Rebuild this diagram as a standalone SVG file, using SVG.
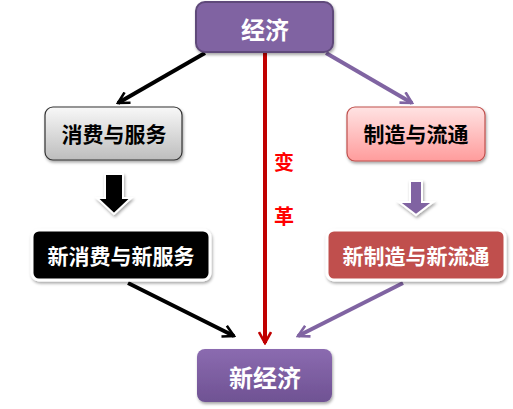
<svg xmlns="http://www.w3.org/2000/svg" width="513" height="409" viewBox="0 0 513 409">
<defs>
<style>
.t{font-family:"Noto Sans CJK SC","Noto Sans",sans-serif;font-weight:bold;text-anchor:middle;dominant-baseline:central}
.w{fill:#fff}
.k{fill:#000}
</style>
<linearGradient id="gp" x1="0" y1="0" x2="0" y2="1"><stop offset="0" stop-color="#8b6bb0"/><stop offset="1" stop-color="#6f5293"/></linearGradient>
<linearGradient id="gg" x1="0" y1="0" x2="0" y2="1"><stop offset="0" stop-color="#f8f8f8"/><stop offset="1" stop-color="#bdbdbd"/></linearGradient>
<linearGradient id="gk" x1="0" y1="0" x2="0" y2="1"><stop offset="0" stop-color="#ffe3e3"/><stop offset="1" stop-color="#ff9c9c"/></linearGradient>
<filter id="sh" x="-20%" y="-20%" width="140%" height="150%"><feDropShadow dx="1" dy="2" stdDeviation="1.5" flood-color="#000" flood-opacity="0.35"/></filter>
<marker id="mk" viewBox="0 0 14 14" refX="12" refY="7" markerWidth="14" markerHeight="14" markerUnits="userSpaceOnUse" orient="auto"><polyline points="1,1 12,7 1,13" fill="none" stroke="#000" stroke-width="2.6"/></marker>
<marker id="mp" viewBox="0 0 14 14" refX="12" refY="7" markerWidth="14" markerHeight="14" markerUnits="userSpaceOnUse" orient="auto"><polyline points="1,1 12,7 1,13" fill="none" stroke="#8064a2" stroke-width="2.6"/></marker>
<marker id="mr" viewBox="0 0 14 14" refX="12" refY="7" markerWidth="14" markerHeight="14" markerUnits="userSpaceOnUse" orient="auto"><polyline points="1,1 12,7 1,13" fill="none" stroke="#c00000" stroke-width="2.6"/></marker>
</defs>
<rect width="513" height="409" fill="#fff"/>
<g id="connectors">
<line x1="205" y1="53" x2="118" y2="103" stroke="#000" stroke-width="4" marker-end="url(#mk)"/>
<line x1="326" y1="53" x2="412" y2="103" stroke="#8064a2" stroke-width="4" marker-end="url(#mp)"/>
<line x1="265" y1="53" x2="265" y2="343" stroke="#c00000" stroke-width="4" marker-end="url(#mr)"/>
<line x1="128" y1="283" x2="234" y2="336" stroke="#000" stroke-width="4" marker-end="url(#mk)"/>
<line x1="403" y1="283" x2="298" y2="336" stroke="#8064a2" stroke-width="4" marker-end="url(#mp)"/>
<polygon points="105,174 123,174 123,198 131,198 114,214 97,198 105,198" fill="#000" stroke="#fff" stroke-width="2" filter="url(#sh)"/>
<polygon points="410,181 422,181 422,202 433,202 416,215 399,202 410,202" fill="#8064a2" stroke="#fff" stroke-width="2" filter="url(#sh)"/>
</g>
<g id="n-jingji">
<rect x="196" y="2" width="137" height="50" rx="9" fill="#8064a2" stroke="#5f497a" stroke-width="2" filter="url(#sh)"/>
<text class="t w" x="265" y="28" font-size="24">经济</text>
</g>
<g id="n-xiaofei">
<rect x="45" y="107" width="137" height="53" rx="8" fill="url(#gg)" stroke="#333" stroke-width="1.2" filter="url(#sh)"/>
<text class="t k" x="114" y="133" font-size="21">消费与服务</text>
</g>
<g id="n-zhizao">
<rect x="347" y="107" width="138" height="54" rx="8" fill="url(#gk)" stroke="#c0504d" stroke-width="1.2" filter="url(#sh)"/>
<text class="t k" x="416" y="133" font-size="21">制造与流通</text>
</g>
<g id="n-biange">
<text class="t" x="284" y="161" font-size="20" fill="#ff0000">变</text>
<text class="t" x="284" y="215" font-size="20" fill="#ff0000">革</text>
</g>
<g id="n-xinxiaofei">
<rect x="32" y="230" width="178" height="50" rx="7" fill="#000" stroke="#fff" stroke-width="3" filter="url(#sh)"/>
<text class="t w" x="121" y="255" font-size="21">新消费与新服务</text>
</g>
<g id="n-xinzhizao">
<rect x="327" y="230" width="178" height="50" rx="7" fill="#c0504d" stroke="#fff" stroke-width="3" filter="url(#sh)"/>
<text class="t w" x="416" y="255" font-size="21">新制造与新流通</text>
</g>
<g id="n-xinjingji">
<rect x="197" y="349" width="135" height="53" rx="8" fill="url(#gp)" filter="url(#sh)"/>
<text class="t w" x="265" y="376" font-size="24">新经济</text>
</g>
</svg>
